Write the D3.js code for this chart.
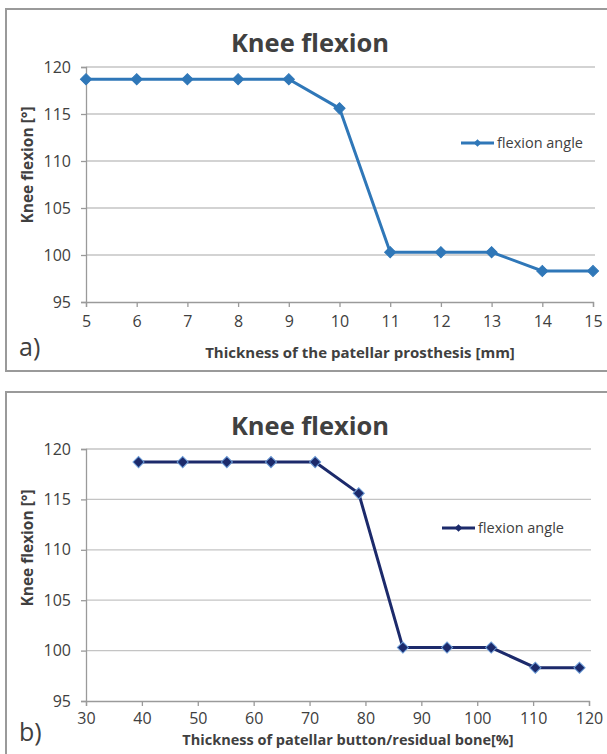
<!DOCTYPE html>
<html>
<head>
<meta charset="utf-8">
<script src="https://cdn.jsdelivr.net/npm/d3@7"></script>
<style>
 body { margin:0; background:#fff; }
 text { font-family: 'Open Sans', 'Liberation Sans', sans-serif; fill:#404040; }
</style>
</head>
<body>
<div id="chart"></div>
<script>
// panel a) data
const thicknessMm = [5, 6, 7, 8, 9, 10, 11, 12, 13, 14, 15];
// panel b) data
const thicknessPct = [39.4, 47.3, 55.2, 63.1, 71.0, 78.8, 86.7, 94.6, 102.5, 110.4, 118.3];
// flexion angle, same for both panels
const flexion = [118.7, 118.7, 118.7, 118.7, 118.7, 115.6, 100.3, 100.3, 100.3, 98.3, 98.3];

const yTicks = [95, 100, 105, 110, 115, 120];
const xTicksA = [5, 6, 7, 8, 9, 10, 11, 12, 13, 14, 15];
const xTicksB = [30, 40, 50, 60, 70, 80, 90, 100, 110, 120];

const svg = d3.select('#chart').append('svg')
    .attr('width', 607)
    .attr('height', 754);

function panel(opt){
 const g = svg.append('g');

 // outer frame
 g.append('rect')
     .attr('x', opt.frame[0])
     .attr('y', opt.frame[1])
     .attr('width', opt.frame[2])
     .attr('height', opt.frame[3])
     .attr('fill', 'none')
     .attr('stroke', '#9a9a9a')
     .attr('stroke-width', 2);

 const xScale = d3.scaleLinear().domain(opt.xDomain).range(opt.xRange);
 const yScale = d3.scaleLinear().domain([95, 120]).range(opt.yRange);

 // horizontal grid
 g.append('g')
     .selectAll('line')
     .data(yTicks.slice(1))
     .join('line')
     .attr('x1', opt.xRange[0])
     .attr('x2', opt.xRange[1] + 2)
     .attr('y1', d => yScale(d))
     .attr('y2', d => yScale(d))
     .attr('stroke', '#c4c4c4')
     .attr('stroke-width', 1.3);

 // y axis
 const yAxis = g.append('g')
     .attr('transform', `translate(${opt.xRange[0]},0)`)
     .call(d3.axisLeft(yScale).tickValues(yTicks).tickSize(5).tickPadding(10));
 // x axis
 const xAxis = g.append('g')
     .attr('transform', `translate(0,${opt.yRange[0]})`)
     .call(d3.axisBottom(xScale).tickValues(opt.xTicks).tickSize(5).tickPadding(opt.xPad));

 [xAxis, yAxis].forEach(a => {
  a.selectAll('.domain').attr('stroke', '#9a9a9a').attr('stroke-width', 1.3);
  a.selectAll('.tick line').attr('stroke', '#9a9a9a').attr('stroke-width', 1.3);
  a.selectAll('.tick text').style('font-size', '16px').attr('fill', '#555')
      .style('font-family', "'Open Sans', sans-serif");
 });

 const pts = opt.xs.map((x, i) => ({x: x, y: flexion[i]}));

 const line = d3.line()
     .x(d => xScale(d.x))
     .y(d => yScale(d.y));

 g.append('path')
     .datum(pts)
     .attr('fill', 'none')
     .attr('stroke', opt.color)
     .attr('stroke-width', 3)
     .attr('d', line);

 const diamond = d3.symbol(d3.symbolSquare, 62);
 g.append('g')
     .selectAll('path')
     .data(pts)
     .join('path')
     .attr('d', diamond)
     .attr('transform', d => `translate(${xScale(d.x)},${yScale(d.y)}) rotate(45)`)
     .attr('fill', opt.color)
     .attr('stroke', opt.marker)
     .attr('stroke-width', 1);

 // title
 g.append('text')
     .text('Knee flexion')
     .attr('x', 310)
     .attr('y', opt.frame[1] + 43)
     .attr('text-anchor', 'middle')
     .style('font-size', '25.5px')
     .style('font-weight', 'bold')
     .attr('fill', '#111');

 // y label
 g.append('text')
     .text('Knee flexion [°]')
     .attr('transform', `translate(33,${opt.yLabel}) rotate(-90)`)
     .attr('text-anchor', 'middle')
     .style('font-size', '15.5px')
     .style('font-weight', 'bold')
     .attr('fill', '#111');

 // x label
 g.append('text')
     .text(opt.xTitle)
     .attr('x', opt.xTitlePos[0])
     .attr('y', opt.xTitlePos[1])
     .attr('text-anchor', 'middle')
     .style('font-size', opt.xTitleSize)
     .style('font-weight', 'bold')
     .attr('fill', '#222');

 // panel letter
 g.append('text')
     .text(opt.letter)
     .attr('x', 19)
     .attr('y', opt.letterY)
     .style('font-size', '25px')
     .attr('fill', '#111');

 // legend
 const lg = g.append('g');
 lg.append('line')
     .attr('x1', opt.legend[0])
     .attr('x2', opt.legend[0] + 33)
     .attr('y1', opt.legend[1])
     .attr('y2', opt.legend[1])
     .attr('stroke', opt.color)
     .attr('stroke-width', 3);
 lg.append('path')
     .attr('d', d3.symbol(d3.symbolSquare, 30))
     .attr('transform', `translate(${opt.legend[0] + 16.5},${opt.legend[1]}) rotate(45)`)
     .attr('fill', opt.color);
 lg.append('text')
     .text('flexion angle')
     .attr('x', opt.legend[0] + 36)
     .attr('y', opt.legend[1] + 5)
     .style('font-size', '14.5px')
     .attr('fill', '#333');
}

panel({
 frame: [6, 9, 612, 362],
 xDomain: [5, 15], xRange: [86, 593],
 yRange: [302, 67],
 xTicks: xTicksA, xPad: 9,
 xs: thicknessMm,
 color: '#2f77b8', marker: '#2f77b8',
 xTitle: 'Thickness of the patellar prosthesis [mm]',
 xTitlePos: [360, 358], xTitleSize: '15px',
 yLabel: 165,
 letter: 'a)', letterY: 356,
 legend: [461, 143]
});

panel({
 frame: [6, 392, 612, 380],
 xDomain: [30, 120], xRange: [86, 589],
 yRange: [701, 449],
 xTicks: xTicksB, xPad: 7,
 xs: thicknessPct,
 color: '#1c2a6b', marker: '#6b9bd6',
 xTitle: 'Thickness of patellar button/residual bone[%]',
 xTitlePos: [348, 745], xTitleSize: '14.5px',
 yLabel: 548,
 letter: 'b)', letterY: 741,
 legend: [442, 528]
});
</script>
</body>
</html>
